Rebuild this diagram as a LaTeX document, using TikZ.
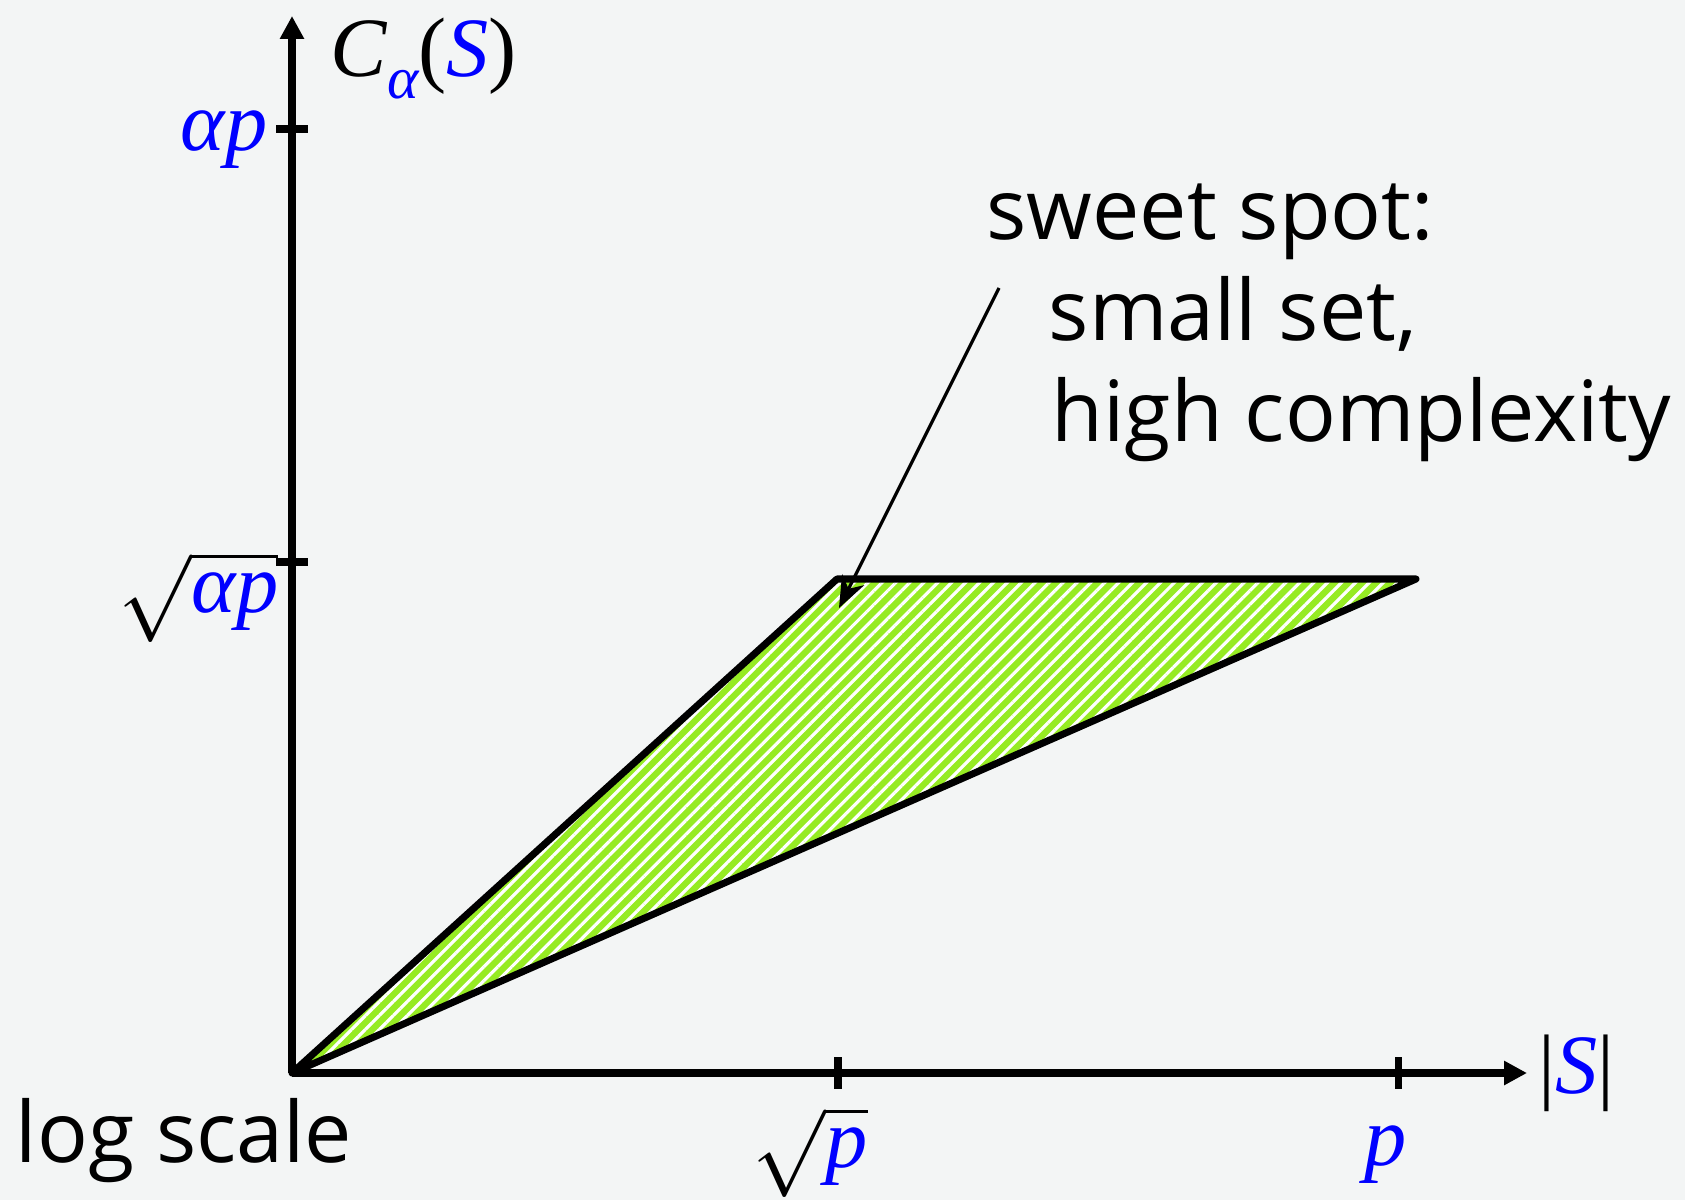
\documentclass[tikz,border=0pt]{standalone}
\usepackage{fontspec}
\setmainfont{Open Sans}
\newfontfamily\tms{Liberation Serif}
\usetikzlibrary{arrows.meta, patterns.meta, positioning}
\definecolor{bgc}{RGB}{243,245,245}
\definecolor{lime}{RGB}{150,235,35}
\newcommand{\bl}[1]{\textcolor{blue}{#1}}

\begin{document}
\begin{tikzpicture}[x=0.01cm, y=-0.01cm,
  axis/.style={line width=2pt, -{Triangle[length=6.5pt, width=6.5pt]}},
  tickmark/.style={line width=2pt},
  edge/.style={line width=2pt, line join=round},
  lab/.style={font=\fontsize{24}{28}\selectfont\tms\itshape, inner sep=0pt},
  note/.style={font=\fontsize{24}{28.7}\selectfont, align=left, inner sep=0pt},
  pointer/.style={line width=0.9pt, -{Stealth[length=9pt, width=7pt]}}
]
\fill[bgc] (0,0) rectangle (1685,1200);
\useasboundingbox (0,0) rectangle (1685,1200);

\coordinate (O) at (292,1073);
\coordinate (ytop) at (292,16);
\coordinate (xend) at (1527,1073);
\coordinate (knee) at (837,579);
\coordinate (far) at (1416,579);

% shaded region
\fill[lime] (O) -- (knee) -- (far) -- cycle;
\fill[pattern={Lines[angle=45, distance=2.8pt, line width=0.9pt]}, pattern color=white]
  (O) -- (knee) -- (far) -- cycle;
\draw[edge] (O) -- (knee) -- (far) -- cycle;

% axes
\draw[axis] (O) -- (ytop);
\draw[axis] (O) -- (xend);

% ticks
\draw[tickmark] (276,129) -- (308,129);
\draw[tickmark] (276,562) -- (308,562);
\draw[tickmark] (838,1057) -- (838,1089);
\draw[tickmark] (1398,1057) -- (1398,1089);

% labels
\node[lab, anchor=base west] (cname) at (330,77)
  {C\raisebox{-0.55ex}{\fontsize{17}{17}\selectfont\bl{α}}{\upshape(}\bl{S}{\upshape)}};
\node[lab, anchor=base east] (yhigh) at (268,150) {\bl{αp}};
\node[lab, anchor=base east] (ymid) at (279,612)
  {\fontsize{24}{28}\selectfont$\sqrt{\hbox{\tms\itshape\bl{αp}}}$};
\node[lab, anchor=base] (xmid) at (810,1167)
  {\fontsize{24}{28}\selectfont$\sqrt{\hbox{\tms\itshape\bl{p}}}$};
\node[lab, anchor=base] (xhigh) at (1386,1165) {\bl{p}};
\node[lab, anchor=base west] (xname) at (1538,1093) {{\upshape|}\bl{S}{\upshape|}};
\node[note, anchor=base west] (scale) at (15,1162) {log scale};

% last line carries the base anchor
\node[note, anchor=base west] (sweet) at (986,441)
  {sweet spot:\\\hspace*{0.62cm}small set,\\\hspace*{0.65cm}high complexity};
\coordinate (ptail) at (999,288);
\coordinate (ptip) at (839,608);
\draw[pointer] (ptail) -- (ptip);
\end{tikzpicture}
\end{document}
